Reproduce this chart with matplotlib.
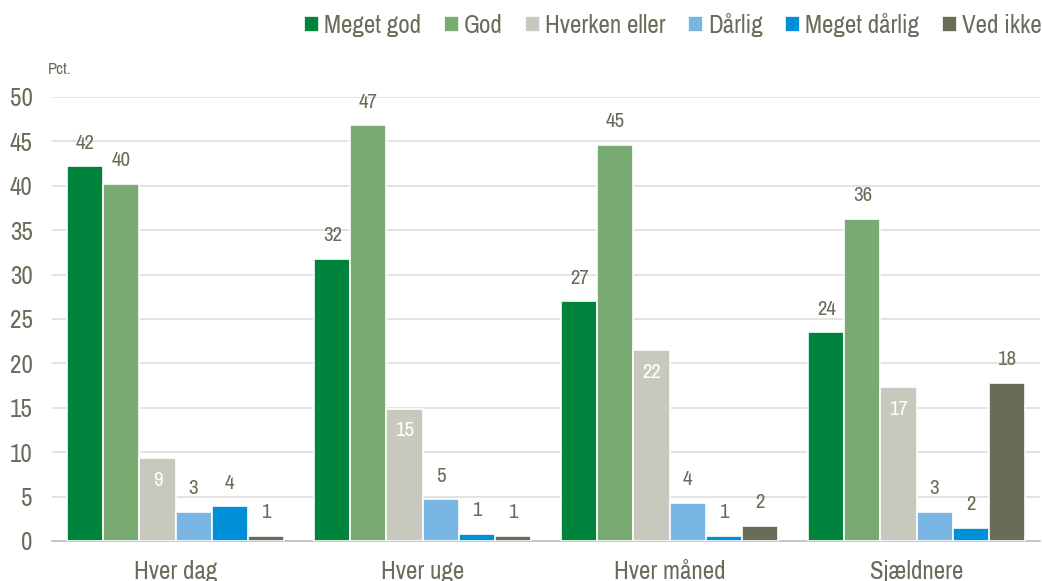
import matplotlib.pyplot as plt
import numpy as np

plt.rcParams['font.family'] = ['Liberation Sans Narrow', 'Archivo Narrow', 'Liberation Sans', 'DejaVu Sans']

categories = ["Hver dag", "Hver uge", "Hver måned", "Sjældnere"]
series = ["Meget god", "God", "Hverken eller", "Dårlig", "Meget dårlig", "Ved ikke"]
values = [
	[42.2, 31.8, 27.0, 23.5],   # Meget god
	[40.2, 46.8, 44.6, 36.3],   # God
	[9.3, 14.9, 21.5, 17.3],    # Hverken eller
	[3.3, 4.7, 4.3, 3.3],       # Dårlig
	[3.9, 0.8, 0.6, 1.5],       # Meget dårlig
	[0.6, 0.6, 1.7, 17.8],      # Ved ikke
]
colors = ['#00843D', '#78AB72', '#C8C8BE', '#7AB6E3', '#0090D7', '#6B6B5A']
inside_white = [False, False, True, False, False, False]

text_col = '#6B6B5A'

fig = plt.figure(figsize=(10.42, 5.81), dpi=100)
ax = fig.add_axes([52/1042, 40/581, 988/1042, 444/581])

x = np.arange(len(categories))
width = 0.875 / len(series)

for i, (name, vals) in enumerate(zip(series, values)):
	pos = x - 0.875/2 + width*(i + 0.5)
	bars = ax.bar(pos, vals, width=width, color=colors[i], edgecolor='white', linewidth=1.2, label=name, zorder=3)
	for b, v in zip(bars, vals):
		cx = b.get_x() + b.get_width()/2
		if inside_white[i]:
			ax.text(cx, v - 2.5, f"{v:.0f}", ha='center', va='center', color='white', fontsize=15, zorder=4)
		else:
			ax.text(cx, v + 2.6, f"{v:.0f}", ha='center', va='center', color=text_col, fontsize=15, zorder=4)

ax.set_xlim(-0.5, len(categories) - 0.5)
ax.set_ylim(0, 50)
ax.set_yticks(np.arange(0, 51, 5))
ax.yaxis.grid(True, color='#DEDEDE', linewidth=1.2, zorder=0)
ax.set_axisbelow(True)
ax.set_xticks(x)
ax.set_xticklabels(categories)
ax.tick_params(axis='x', length=0, labelsize=18, colors=text_col, pad=14)
ax.tick_params(axis='y', length=0, labelsize=18, colors=text_col, pad=14)
for s in ['top', 'right', 'left']:
	ax.spines[s].set_visible(False)
ax.spines['bottom'].set_color('#BFBFBF')
ax.spines['bottom'].set_linewidth(1.2)

fig.text(48/1042, 1 - 70/581, "Pct.", fontsize=12, color=text_col, va='center', ha='left')

leg = ax.legend(loc='upper right', bbox_to_anchor=(1.012, 1 + 94/444), ncol=6, frameon=False,
	handlelength=0.6, handleheight=0.6, handletextpad=0.2, columnspacing=0.9, fontsize=18,
	labelcolor=text_col, borderaxespad=0)

fig.savefig('out.png', dpi=100)
